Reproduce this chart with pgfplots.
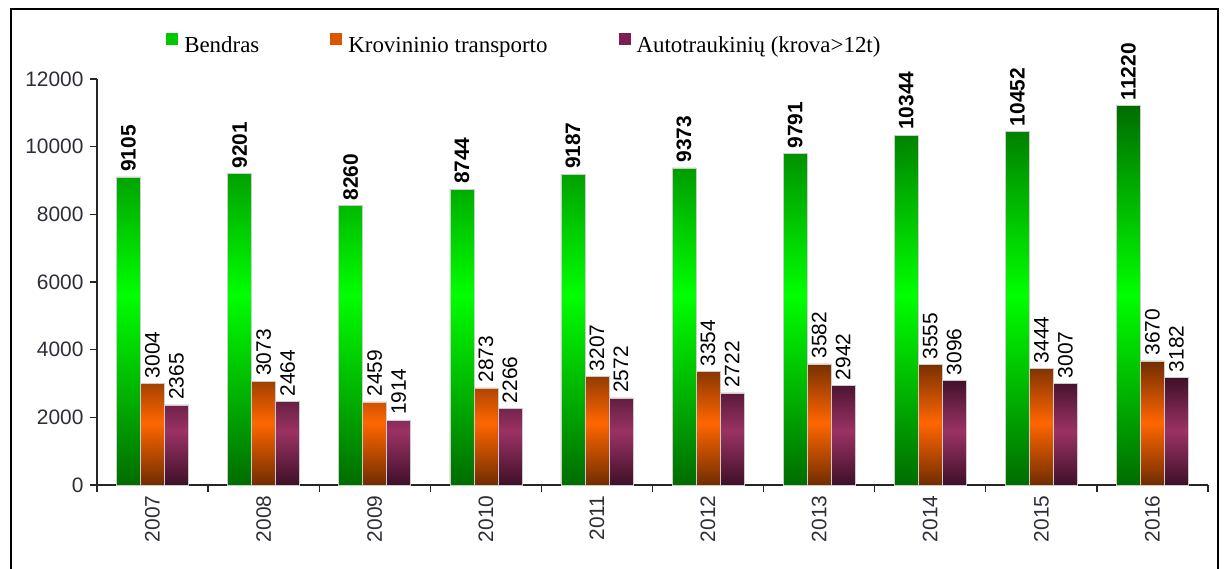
\documentclass[border=0pt]{standalone}
\usepackage{fontspec}
\setmainfont{Liberation Sans}
\newfontfamily\legfont{Liberation Serif}
\usepackage{pgfplots}
\pgfplotsset{compat=1.18}

\definecolor{gdark}{RGB}{0,108,0}
\definecolor{gbright}{RGB}{0,255,0}
\definecolor{odark}{RGB}{112,45,0}
\definecolor{obright}{RGB}{255,102,0}
\definecolor{pdark}{RGB}{62,16,40}
\definecolor{pbright}{RGB}{155,50,100}
\definecolor{gleg}{RGB}{0,200,0}
\definecolor{oleg}{RGB}{220,85,0}
\definecolor{pleg}{RGB}{125,30,80}
\definecolor{ticktext}{RGB}{45,45,55}

\newcommand{\legsq}[1]{\pgfsetfillcolor{#1}\pgfpathrectangle{\pgfqpoint{0bp}{0.5bp}}{\pgfqpoint{12bp}{12bp}}\pgfusepath{fill}}

\begin{document}
\begin{tikzpicture}
\useasboundingbox (0bp,0bp) rectangle (1224bp,569bp);
\draw[line width=2bp] (11bp,-5bp) -- (11bp,560bp) -- (1218bp,560bp) -- (1218bp,-5bp);
\begin{axis}[
  at={(97bp,84bp)}, anchor=south west,
  scale only axis, width=1111bp, height=406bp,
  xmin=-0.5, xmax=9.5, ymin=0, ymax=12000,
  clip=false,
  axis x line*=bottom, axis y line*=left,
  axis line style={line width=1.3bp, black!85},
  ybar=0pt, bar width=24bp,
  scaled y ticks=false,
  ytick={0,2000,...,12000},
  xtick={0,...,9},
  xticklabels={2007,2008,2009,2010,2011,2012,2013,2014,2015,2016},
  minor xtick={-0.5,0.5,...,9.5},
  major x tick style={draw=none},
  tick align=outside,
  major tick length=7bp, minor tick length=7bp,
  tick style={line width=1.3bp, black!85},
  /pgf/number format/assume math mode=true,
  /pgf/number format/1000 sep={},
  ticklabel style={font=\fontsize{21}{25}\selectfont, text=ticktext},
  yticklabel style={xshift=-3bp},
  xticklabel style={rotate=90, anchor=east},
  nodes near coords,
  every node near coord/.append style={rotate=90, anchor=west, inner sep=5bp, text=black, font=\fontsize{21}{25}\selectfont},
  legend columns=3,
  legend style={draw=none, fill=none, at={(axis description cs:0.0622,1.084)}, anchor=west, inner sep=0pt,
    font=\legfont\fontsize{23}{27}\selectfont,
    /tikz/every odd column/.append style={column sep=4bp},
    /tikz/every even column/.append style={column sep=69bp}},
]
\addplot[draw=black!20, line width=0.5bp, top color=gdark, bottom color=gdark, middle color=gbright,
  every node near coord/.append style={font=\fontsize{21}{25}\selectfont\bfseries},
  legend image code/.code={\legsq{gleg}}]
  coordinates {(0,9105) (1,9201) (2,8260) (3,8744) (4,9187) (5,9373) (6,9791) (7,10344) (8,10452) (9,11220)};
\addplot[draw=black!20, line width=0.5bp, top color=odark, bottom color=odark, middle color=obright,
  legend image code/.code={\legsq{oleg}}]
  coordinates {(0,3004) (1,3073) (2,2459) (3,2873) (4,3207) (5,3354) (6,3582) (7,3555) (8,3444) (9,3670)};
\addplot[draw=black!20, line width=0.5bp, top color=pdark, bottom color=pdark, middle color=pbright,
  legend image code/.code={\legsq{pleg}}]
  coordinates {(0,2365) (1,2464) (2,1914) (3,2266) (4,2572) (5,2722) (6,2942) (7,3096) (8,3007) (9,3182)};
\legend{Bendras, Krovininio transporto, Autotraukinių (krova>12t)}
\end{axis}
\end{tikzpicture}
\end{document}
